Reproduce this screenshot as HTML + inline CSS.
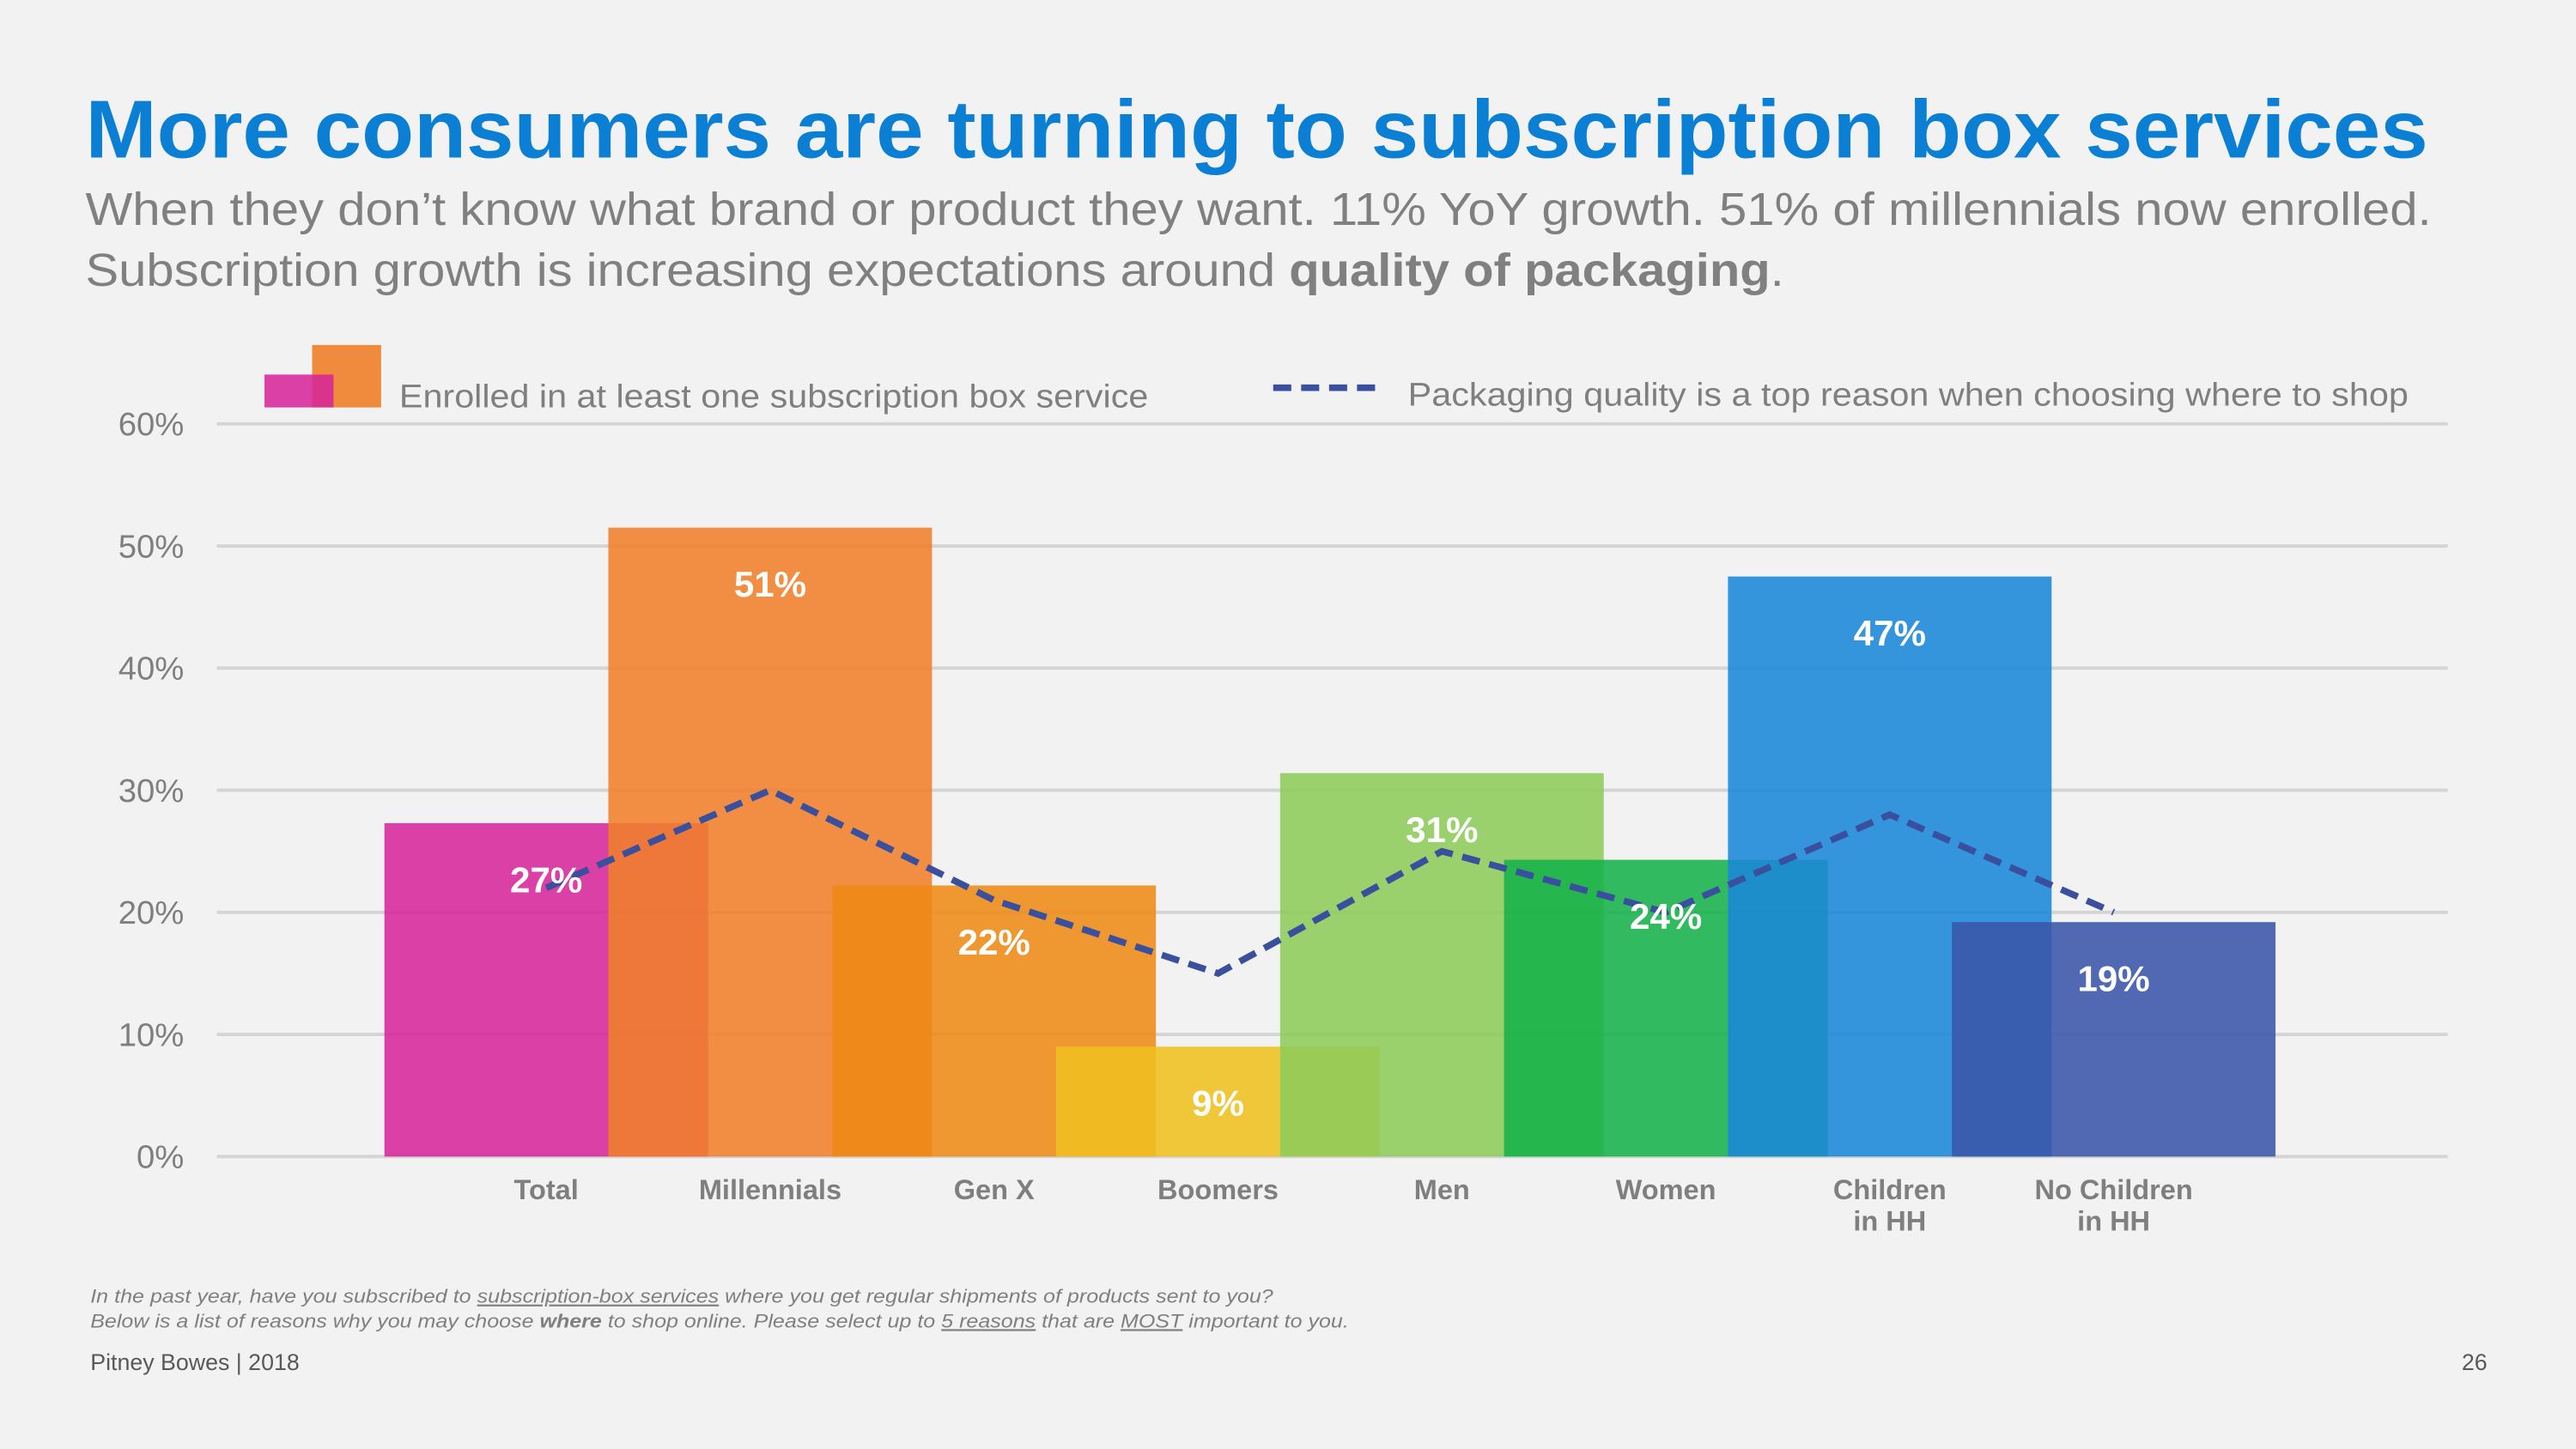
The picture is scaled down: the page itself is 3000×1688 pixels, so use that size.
<!DOCTYPE html>
<html><head><meta charset="utf-8"><style>
html,body{margin:0;padding:0;background:#f2f2f2;}
svg{display:block;font-family:"Liberation Sans",Arial,sans-serif;}
</style></head><body>
<svg id="chart" width="3000" height="1688" viewBox="0 0 1568 882" preserveAspectRatio="none" xmlns="http://www.w3.org/2000/svg">
<rect width="1568" height="882" fill="#f2f2f2"/>
<text x="52" y="96" font-size="50" font-weight="bold" fill="#0a7fd4" textLength="1426" lengthAdjust="spacingAndGlyphs">More consumers are turning to subscription box services</text>
<text x="52" y="137" font-size="28" fill="#808080" textLength="1428" lengthAdjust="spacingAndGlyphs">When they don’t know what brand or product they want. 11% YoY growth. 51% of millennials now enrolled.</text>
<text x="52" y="174" font-size="28" fill="#808080" textLength="1034" lengthAdjust="spacingAndGlyphs">Subscription growth is increasing expectations around <tspan font-weight="bold">quality of packaging</tspan>.</text>
<g>
<rect x="190" y="210" width="42" height="38" fill="#f07f2a" opacity="0.9"/>
<rect x="161" y="228" width="42" height="20" fill="#d6279a" opacity="0.88"/>
<text x="243" y="248" font-size="20" fill="#7f7f7f" textLength="456" lengthAdjust="spacingAndGlyphs">Enrolled in at least one subscription box service</text>
<line x1="775" y1="236" x2="840" y2="236" stroke="#3a4f9e" stroke-width="4" stroke-dasharray="11,6"/>
<text x="857" y="247" font-size="20" fill="#7f7f7f" textLength="609" lengthAdjust="spacingAndGlyphs">Packaging quality is a top reason when choosing where to shop</text>
</g>
<g id="grid"></g><g id="bars"></g><g id="line"></g><g id="labels"></g>
<text x="55" y="793" font-size="11.5" font-style="italic" fill="#7f7f7f" textLength="720" lengthAdjust="spacingAndGlyphs">In the past year, have you subscribed to <tspan text-decoration="underline">subscription-box services</tspan> where you get regular shipments of products sent to you?</text>
<text x="55" y="808" font-size="11.5" font-style="italic" fill="#7f7f7f" textLength="766" lengthAdjust="spacingAndGlyphs">Below is a list of reasons why you may choose <tspan font-weight="bold">where</tspan> to shop online. Please select up to <tspan text-decoration="underline">5 reasons</tspan> that are <tspan text-decoration="underline">MOST</tspan> important to you.</text>
<text x="55" y="834" font-size="14" fill="#595959">Pitney Bowes | 2018</text>
<text x="1514" y="834" font-size="14" fill="#595959" text-anchor="end">26</text>
</svg>
<script>
const categories=["Total","Millennials","Gen X","Boomers","Men","Women","Children|in HH","No Children|in HH"];
const enrolled=[27.3,51.5,22.2,9,31.4,24.3,47.5,19.2];
const valueLabels=["27%","51%","22%","9%","31%","24%","47%","19%"];
const packaging=[22,30,21,15,25,20,28,20];
const yTicks=[0,10,20,30,40,50,60];
const colors=["#d6279a","#f07f2a","#ee8a14","#f0c020","#8dcc5a","#16b24a","#1a88d8","#3a55a8"];
const NS="http://www.w3.org/2000/svg";
const y0=704,yTop=258,xLeft=132,xRight=1490;
function yScale(v){return y0-(v/60)*(y0-yTop);}
function xCenter(i){return 332.5+i*136.3;}
const barW=197;
function mk(tag,attrs,parent){const e=document.createElementNS(NS,tag);for(const k in attrs)e.setAttribute(k,attrs[k]);parent.appendChild(e);return e;}
const grid=document.getElementById('grid');
yTicks.forEach(t=>{
 const l=mk('line',{x1:xLeft,x2:xRight,y1:yScale(t),y2:yScale(t),stroke:'#d4d4d4','stroke-width':2},grid);
 
 
 const tx=mk('text',{x:112,y:yScale(t)+7,'font-size':20,fill:'#7f7f7f','text-anchor':'end'},grid);
 tx.textContent=t+'%';
 
 
});
const bars=document.getElementById('bars'),labels=document.getElementById('labels');
enrolled.forEach((v,i)=>{
 const r=mk('rect',{x:xCenter(i)-barW/2,y:yScale(v),width:barW,height:y0-yScale(v),fill:colors[i],opacity:0.88},bars);
 
 
 const t=mk('text',{x:xCenter(i),y:yScale(v)+42,'font-size':22,'font-weight':'bold',fill:'#fff','text-anchor':'middle'},labels);
 t.textContent=valueLabels[i];
 
 
 const parts=categories[i].split('|');
 parts.forEach((p,j)=>{
  const c=mk('text',{x:xCenter(i),y:730+j*19,'font-size':17,'font-weight':'bold',fill:'#7f7f7f','text-anchor':'middle'},labels);
  c.textContent=p;
  
  
 });
});
const pts=packaging.map((v,i)=>xCenter(i)+','+yScale(v)).join(' ');
const pl=mk('polyline',{points:pts,fill:'none',stroke:'#3a4f9e','stroke-width':4,'stroke-dasharray':'11,6'},document.getElementById('line'));


</script>
</body></html>
